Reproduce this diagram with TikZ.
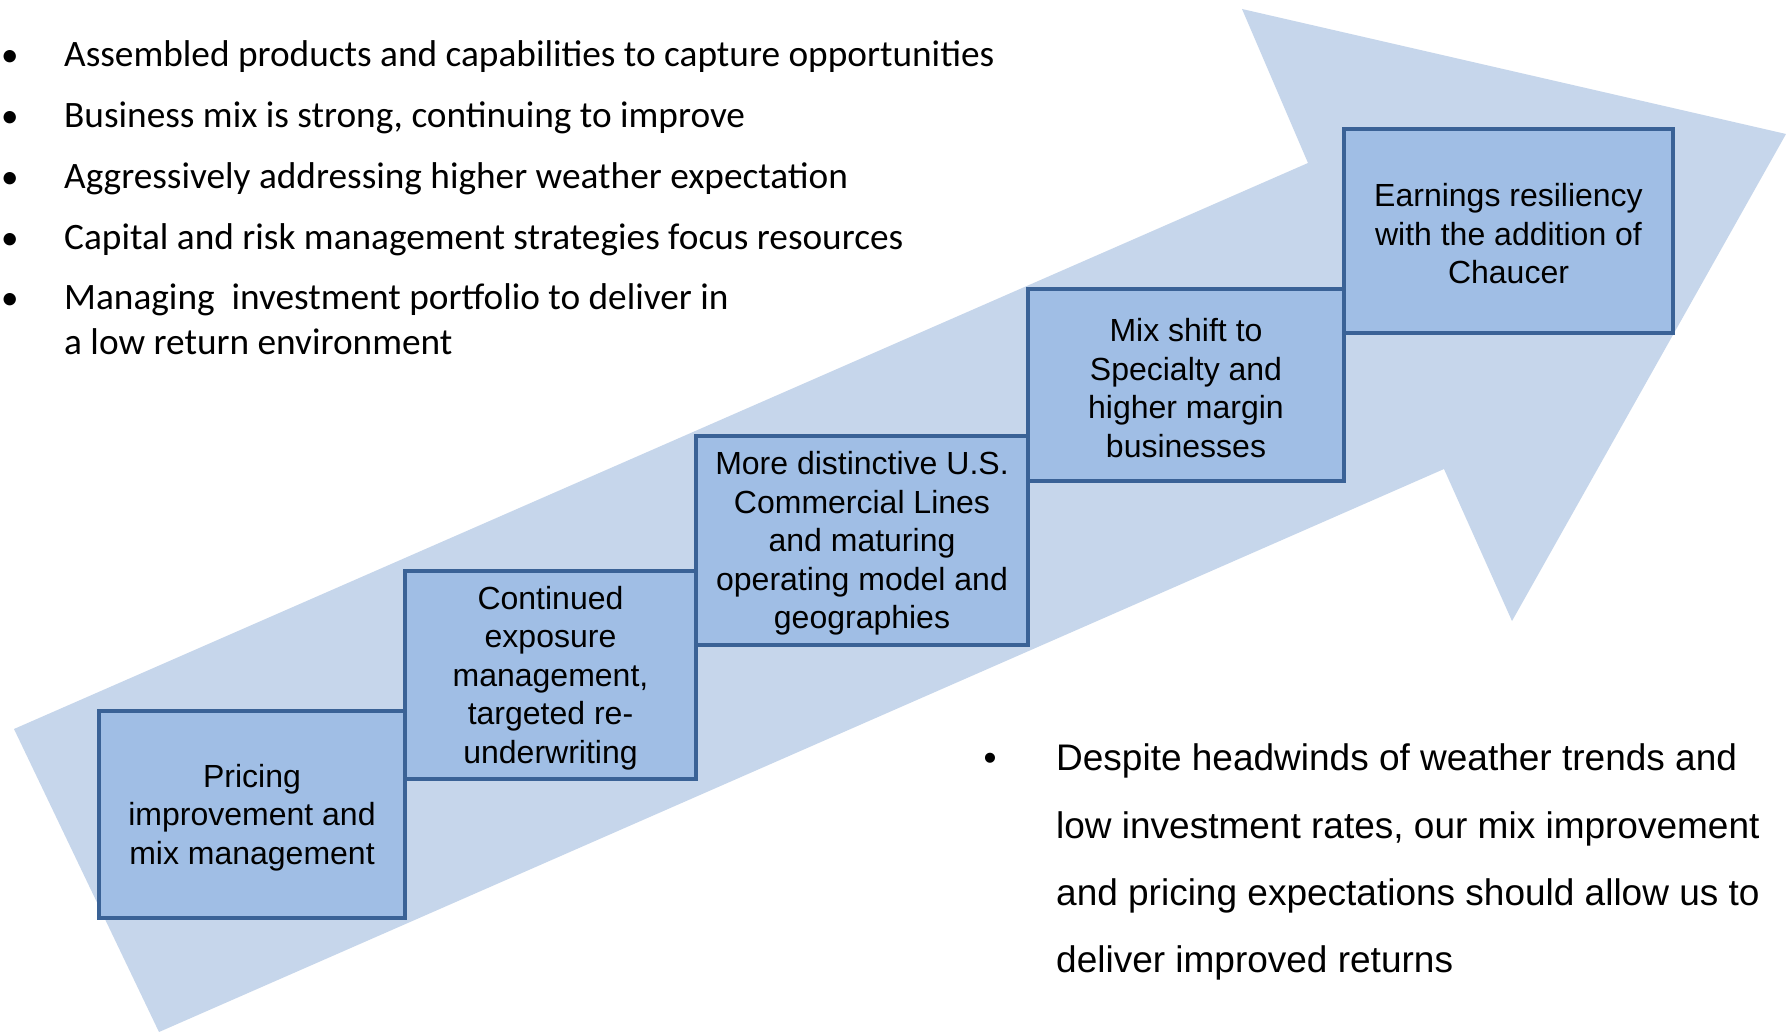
\documentclass[tikz,border=0pt]{standalone}
\usepackage{fontspec}
\setmainfont{Liberation Sans}
\newfontfamily\calfont{Carlito}
\definecolor{arrowfill}{RGB}{198,214,235}
\definecolor{boxfill}{RGB}{160,190,229}
\definecolor{boxline}{RGB}{58,98,150}
\begin{document}
\begin{tikzpicture}[x=1pt,y=-1pt,
  stepbox/.style={draw=boxline, fill=boxfill, line width=4pt, inner sep=0pt},
  steptext/.style={align=center, inner sep=0pt, yshift=-3pt,
    font=\fontsize{32}{38.5}\selectfont},
  topline/.style={anchor=base west, inner sep=0pt, font=\calfont\fontsize{37.3}{44}\selectfont},
  topbullet/.style={anchor=base west, inner sep=0pt, font=\calfont\fontsize{35}{40}\selectfont},
  botline/.style={anchor=base west, inner sep=0pt, font=\fontsize{37}{45}\selectfont},
  botbullet/.style={anchor=base, inner sep=0pt, font=\fontsize{37}{45}\selectfont}]
\useasboundingbox (0,0) rectangle (1786,1032);
\fill[white] (0,0) rectangle (1786,1032);
% big arrow
\fill[arrowfill] (14,729) -- (1308,163) -- (1242,9) -- (1786,134) -- (1512,621)
  -- (1444,469) -- (159,1032) -- cycle;
% steps
\node[stepbox, minimum width=306pt, minimum height=207pt] (b1) at (252,814.5) {};
\node[steptext] (b1t) at (b1.center) {Pricing\\improvement and\\mix management};
\node[stepbox, minimum width=291pt, minimum height=208pt] (b2) at (550.5,675) {};
\node[steptext] (b2t) at (b2.center) {Continued\\exposure\\management,\\targeted re-\\underwriting};
\node[stepbox, minimum width=332pt, minimum height=209pt] (b3) at (862,540.5) {};
\node[steptext] (b3t) at (b3.center) {More distinctive U.S.\\Commercial Lines\\and maturing\\operating model and\\geographies};
\node[stepbox, minimum width=316pt, minimum height=192pt] (b4) at (1186,385) {};
\node[steptext] (b4t) at (b4.center) {Mix shift to\\Specialty and\\higher margin\\businesses};
\node[stepbox, minimum width=329pt, minimum height=204pt] (b5) at (1508.5,231) {};
\node[steptext] (b5t) at (b5.center) {Earnings resiliency\\with the addition of\\Chaucer};
% top-left bullets
\node[topbullet] (tb1) at (1,67) {•};
\node[topline] (t1) at (64,67) {Assembled products and capabilities to capture opportunities};
\node[topbullet] (tb2) at (1,128) {•};
\node[topline] (t2) at (64,128) {Business mix is strong, continuing to improve};
\node[topbullet] (tb3) at (1,189) {•};
\node[topline] (t3) at (64,189) {Aggressively addressing higher weather expectation};
\node[topbullet] (tb4) at (1,250) {•};
\node[topline] (t4) at (64,250) {Capital and risk management strategies focus resources};
\node[topbullet] (tb5) at (1,310) {•};
\node[topline] (t5) at (64,310) {Managing~ investment portfolio to deliver in};
\node[topline] (t6) at (64,355) {a low return environment};
% bottom-right bullet
\node[botbullet] (bb) at (990,770) {•};
\node[botline] (r1) at (1056,770) {Despite headwinds of weather trends and};
\node[botline] (r2) at (1056,838) {low investment rates, our mix improvement};
\node[botline] (r3) at (1056,905) {and pricing expectations should allow us to};
\node[botline] (r4) at (1056,972) {deliver improved returns};
\end{tikzpicture}
\end{document}
